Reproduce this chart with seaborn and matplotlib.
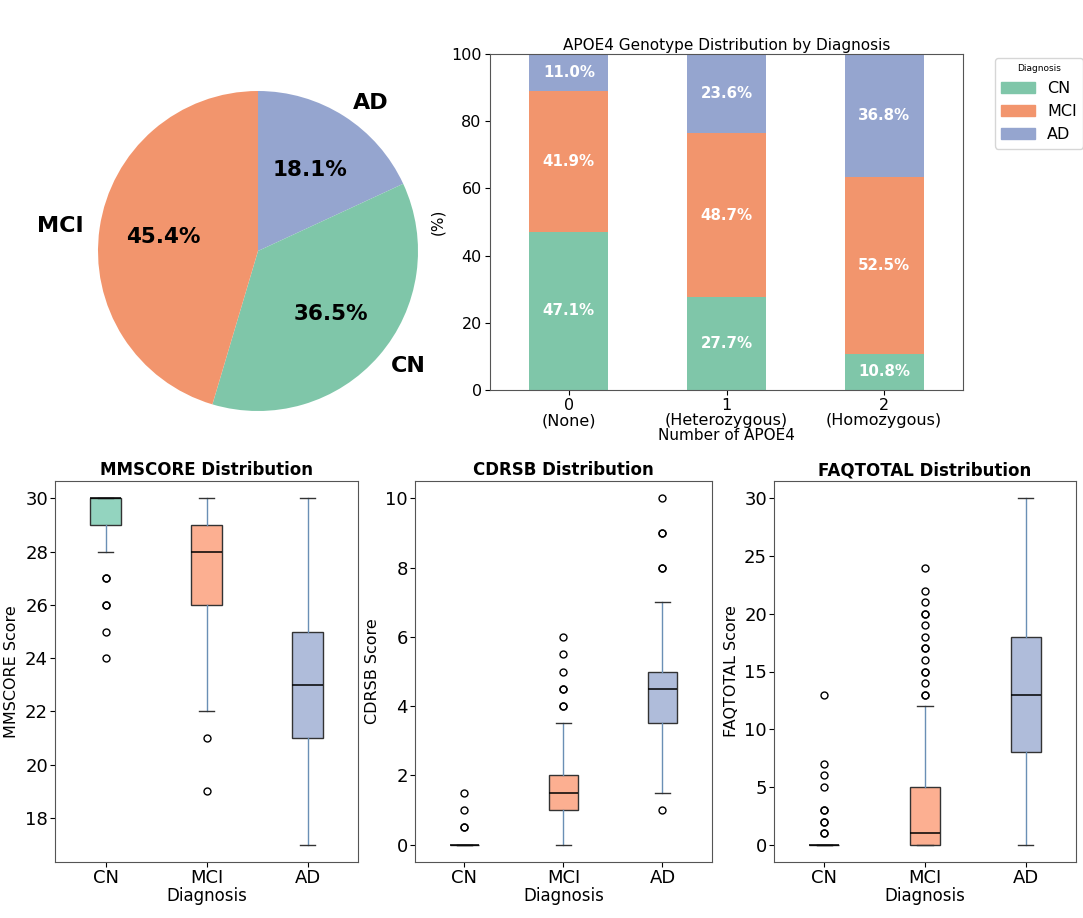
import numpy as np
import matplotlib
matplotlib.use("Agg")
import matplotlib.pyplot as plt
import seaborn as sns
from matplotlib.patches import Patch

# --- data ---
diagnoses = ['CN', 'MCI', 'AD']
pie_order = ['AD', 'CN', 'MCI']
pie_share = [18.1, 36.5, 45.4]

apoe_labels = ['0\n(None)', '1\n(Heterozygous)', '2\n(Homozygous)']
apoe_cn = [47.1, 27.7, 10.8]
apoe_mci = [41.9, 48.7, 52.5]
apoe_ad = [11.0, 23.6, 36.8]

# box summaries per diagnosis (CN, MCI, AD): q1, median, q3, whisker low, whisker high
mms_q1 = [29, 26, 21]
mms_med = [30, 28, 23]
mms_q3 = [30, 29, 25]
mms_lo = [28, 22, 17]
mms_hi = [30, 30, 30]
mms_fliers = [[27, 27, 26, 26, 25, 24], [21, 19], []]

cdr_q1 = [0, 1, 3.5]
cdr_med = [0, 1.5, 4.5]
cdr_q3 = [0, 2, 5]
cdr_lo = [0, 0, 1.5]
cdr_hi = [0, 3.5, 7]
cdr_fliers = [[0.5, 0.5, 1, 1.5], [4, 4, 4.5, 4.5, 5, 5.5, 6], [1, 8, 8, 9, 9, 10]]

faq_q1 = [0, 0, 8]
faq_med = [0, 1, 13]
faq_q3 = [0, 5, 18]
faq_lo = [0, 0, 0]
faq_hi = [0, 12, 30]
faq_fliers = [[1, 1, 2, 2, 3, 3, 5, 6, 7, 13],
              [13, 13, 14, 15, 15, 16, 17, 17, 18, 19, 20, 20, 21, 22, 24], []]

plt.rcParams['font.family'] = ['DejaVu Sans']
set2 = sns.color_palette("Set2", 3)
box_colors = {'CN': set2[0], 'MCI': set2[1], 'AD': set2[2]}
# muted versions used in the pie and the stacked bars
solid = {'CN': '#7fc6a9', 'MCI': '#f2956d', 'AD': '#95a5cf'}

W, H = 1083, 918
fig = plt.figure(figsize=(W / 100, H / 100), dpi=100)


def px_axes(left, top, right, bottom):
    return fig.add_axes([left / W, 1 - bottom / H, (right - left) / W, (bottom - top) / H])


# --- pie ---
ax_pie = px_axes(58, 51, 458, 451)
wedges, texts, autotexts = ax_pie.pie(
    pie_share, labels=pie_order, colors=[solid[d] for d in pie_order],
    autopct='%1.1f%%', startangle=90, counterclock=False,
    wedgeprops={'linewidth': 0}, textprops={'fontsize': 16, 'fontweight': 'bold'})
for t in autotexts:
    t.set_fontsize(15.5)

# --- stacked bar ---
ax_bar = px_axes(490, 54, 963, 390)
cn = np.array(apoe_cn)
mci = np.array(apoe_mci)
ad = np.array(apoe_ad)
tops = [(cn + mci + ad).clip(max=100), cn + mci, cn]
for vals, d in zip(tops, ['AD', 'MCI', 'CN']):
    sns.barplot(x=apoe_labels, y=vals, color=solid[d], saturation=1,
                width=0.5, errorbar=None, ax=ax_bar)
bottoms = [np.zeros(3), cn, cn + mci]
for seg, bot in zip([cn, mci, ad], bottoms):
    for i, v in enumerate(seg):
        ax_bar.text(i, bot[i] + v / 2, f'{v:.1f}%', ha='center', va='center',
                    color='white', fontsize=10.8, fontweight='bold')
ax_bar.set_ylim(0, 100)
ax_bar.set_title('APOE4 Genotype Distribution by Diagnosis', fontsize=11, pad=3)
ax_bar.set_ylabel('(%)', fontsize=11)
ax_bar.set_xlabel('Number of APOE4', fontsize=11, labelpad=0)
ax_bar.tick_params(labelsize=11.5, pad=2.5)
for lab in ax_bar.get_xticklabels():
    lab.set_linespacing(1.0)
handles = [Patch(color=solid[d], label=d) for d in diagnoses]
ax_bar.legend(handles=handles, title='Diagnosis', loc='upper left', bbox_to_anchor=(1.05, 1.012),
              fontsize=11.5, title_fontsize=6.5, handlelength=2.1)

# --- box plots ---
box_specs = [
    ('MMSCORE', (55, 481, 358, 862), mms_q1, mms_med, mms_q3, mms_lo, mms_hi, mms_fliers),
    ('CDRSB', (415, 481, 712, 862), cdr_q1, cdr_med, cdr_q3, cdr_lo, cdr_hi, cdr_fliers),
    ('FAQTOTAL', (774, 481, 1076, 862), faq_q1, faq_med, faq_q3, faq_lo, faq_hi, faq_fliers),
]
for name, rect, q1, med, q3, lo, hi, fl in box_specs:
    ax = px_axes(*rect)
    stats = [{'q1': q1[i], 'med': med[i], 'q3': q3[i], 'whislo': lo[i], 'whishi': hi[i],
              'fliers': fl[i], 'label': d} for i, d in enumerate(diagnoses)]
    bp = ax.bxp(stats, patch_artist=True, widths=0.3,
                boxprops={'edgecolor': '#333333', 'linewidth': 1},
                whiskerprops={'color': '#6a8fb5', 'linewidth': 1},
                capprops={'color': '#333333', 'linewidth': 1},
                medianprops={'color': 'black', 'linewidth': 1.1},
                flierprops={'marker': 'o', 'markerfacecolor': 'none',
                            'markeredgecolor': 'black', 'markersize': 5})
    for patch, d in zip(bp['boxes'], diagnoses):
        patch.set_facecolor((*box_colors[d], 0.7))
        patch.set_edgecolor('#333333')
    ax.set_title(f'{name} Distribution', fontsize=12, fontweight='bold', pad=4)
    ax.set_ylabel(f'{name} Score', fontsize=11.5)
    ax.set_xlabel('Diagnosis', fontsize=12, labelpad=0)
    ax.tick_params(labelsize=13, pad=1.5)

for a in fig.axes:
    for s in a.spines.values():
        s.set_color('#555555')

fig.savefig('out.png', dpi=100)
